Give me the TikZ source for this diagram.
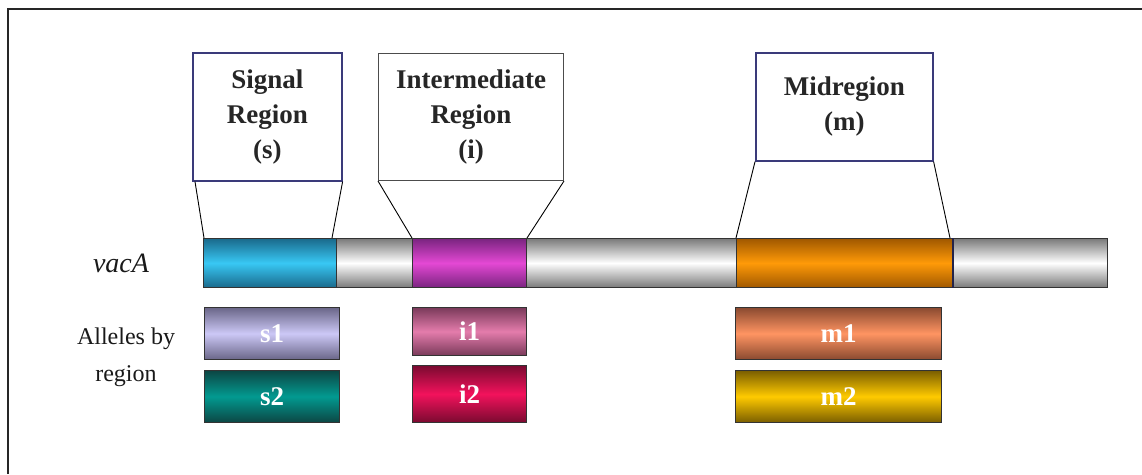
\documentclass[tikz,border=0pt]{standalone}
\usepackage{fontspec}
\setmainfont{Liberation Serif}
\definecolor{navy}{HTML}{3A3A7A}
\definecolor{grayedge}{HTML}{7A7A7A}
\definecolor{blueedge}{HTML}{1A6A8C}
\definecolor{bluemid}{HTML}{38C8F4}
\definecolor{magedge}{HTML}{7A2480}
\definecolor{magmid}{HTML}{E448D4}
\definecolor{oredge}{HTML}{A05800}
\definecolor{ormid}{HTML}{FF9A08}
\definecolor{saedge}{HTML}{6A6688}
\definecolor{samid}{HTML}{CCC8F6}
\definecolor{sbedge}{HTML}{0C4644}
\definecolor{sbmid}{HTML}{029A90}
\definecolor{iaedge}{HTML}{7A3A5A}
\definecolor{iamid}{HTML}{E47CAC}
\definecolor{ibedge}{HTML}{7A0A30}
\definecolor{ibmid}{HTML}{F2125C}
\definecolor{maedge}{HTML}{8A4A30}
\definecolor{mamid}{HTML}{FF9462}
\definecolor{mbedge}{HTML}{7A5E00}
\definecolor{mbmid}{HTML}{FFCA00}
\tikzset{
  regbox/.style={draw=navy, line width=1.6pt, fill=white, inner sep=0pt, anchor=north west,
    align=center, font=\fontsize{27}{35}\selectfont\bfseries, text=black!85},
  seg/.style={draw=black!80, line width=1pt, inner sep=0pt, anchor=north west,
    minimum height=49pt},
  grayseg/.style={seg, top color=grayedge, bottom color=grayedge, middle color=white},
  allele/.style={draw=black!80, line width=1pt, inner sep=0pt, anchor=north west,
    text=white, font=\fontsize{27}{27}\selectfont\bfseries},
  funnel/.style={draw=black, line width=0.9pt},
  lbl/.style={font=\fontsize{24}{37}\selectfont, align=center, text=black!90}
}
\begin{document}
\begin{tikzpicture}[x=1pt,y=-1pt]
\useasboundingbox (0,0) rectangle (1142,474);
% outer frame (cropped on the right and bottom)
\draw[line width=2pt, black!85] (8,474) -- (8,9) -- (1142,9);

% region boxes
\node[regbox, minimum width=149pt, minimum height=128pt] (sig) at (192,52) {Signal\\Region\\(s)};
\node[regbox, draw=black!70, line width=1pt, minimum width=185pt, minimum height=127pt] (int) at (378,53) {Intermediate\\Region\\(i)};
\node[regbox, minimum width=177pt, minimum height=108pt] (mid) at (755,52) {Midregion\\(m)};

% vacA bar
\node[seg, minimum width=133pt, top color=blueedge, bottom color=blueedge, middle color=bluemid] (sbar) at (203,238) {};
\node[grayseg, minimum width=76pt] (g1) at (336,238) {};
\node[seg, minimum width=114pt, top color=magedge, bottom color=magedge, middle color=magmid] (ibar) at (412,238) {};
\node[grayseg, minimum width=210pt] (g2) at (526,238) {};
\node[seg, minimum width=216pt, top color=oredge, bottom color=oredge, middle color=ormid] (mbar) at (736,238) {};
\node[grayseg, minimum width=155pt] (g3) at (952,238) {};
\draw[navy!60!black, line width=2pt] (mbar.north east) -- (mbar.south east);

% funnel lines
\draw[funnel] ([xshift=3pt]sig.south west) -- ([xshift=1pt]sbar.north west);
\draw[funnel] (sig.south east) -- ([xshift=-5pt]sbar.north east);
\draw[funnel] (int.south west) -- (ibar.north west);
\draw[funnel] (int.south east) -- (ibar.north east);
\draw[funnel] (mid.south west) -- (mbar.north west);
\draw[funnel] (mid.south east) -- ([xshift=-3pt]mbar.north east);

% labels
\node[font=\fontsize{28}{28}\selectfont\itshape, text=black!90] (vaca) at (121,263) {vacA};
\node[lbl] (alleles) at (126,357) {Alleles by\\region};

% allele boxes
\node[allele, minimum width=135pt, minimum height=52pt, top color=saedge, bottom color=saedge, middle color=samid] (s1) at (204,307) {s1};
\node[allele, minimum width=135pt, minimum height=52pt, top color=sbedge, bottom color=sbedge, middle color=sbmid] (s2) at (204,370) {s2};
\node[allele, minimum width=114pt, minimum height=48pt, top color=iaedge, bottom color=iaedge, middle color=iamid] (i1) at (412,307) {i1};
\node[allele, minimum width=114pt, minimum height=57pt, top color=ibedge, bottom color=ibedge, middle color=ibmid] (i2) at (412,365) {i2};
\node[allele, minimum width=206pt, minimum height=52pt, top color=maedge, bottom color=maedge, middle color=mamid] (m1) at (735,307) {m1};
\node[allele, minimum width=206pt, minimum height=52pt, top color=mbedge, bottom color=mbedge, middle color=mbmid] (m2) at (735,370) {m2};
\end{tikzpicture}
\end{document}
